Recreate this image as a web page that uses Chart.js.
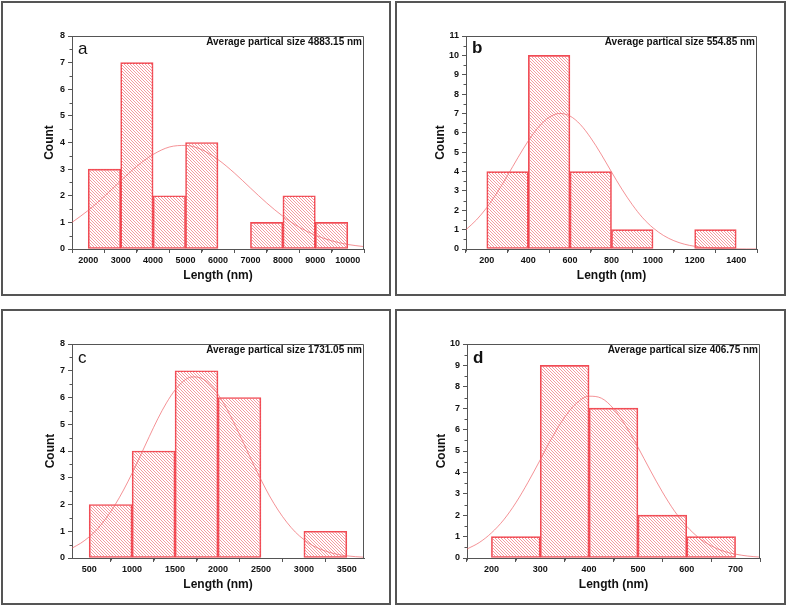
<!DOCTYPE html>
<html>
<head>
<meta charset="utf-8">
<script src="https://cdn.jsdelivr.net/npm/chart.js@4.4.1/dist/chart.umd.min.js"></script>
<style>
  body { margin: 0; background: #fff; }
  .box { position: absolute; border: 2px solid #555; box-sizing: border-box; background: #fff; }
  .box canvas { display: block; }
</style>
</head>
<body>
<div class="box" style="left:1px;top:1px;width:390px;height:295px"><canvas id="chartA" width="386" height="291"></canvas></div>
<div class="box" style="left:395px;top:1px;width:391px;height:295px"><canvas id="chartB" width="387" height="291"></canvas></div>
<div class="box" style="left:1px;top:309px;width:390px;height:296px"><canvas id="chartC" width="386" height="292"></canvas></div>
<div class="box" style="left:395px;top:309px;width:391px;height:296px"><canvas id="chartD" width="387" height="292"></canvas></div>
<script>
// Panel a
const binsA = [2500, 3500, 4500, 5500, 6500, 7500, 8500, 9500]; // bin centres (nm)
const countsA = [3, 7, 2, 4, 0, 1, 2, 1];
const fitXA = [1500, 2000, 2500, 3000, 3500, 4000, 4500, 5000, 5500, 6000, 6500, 7000, 7500, 8000, 8500, 9000, 9500, 10000, 10500];
const fitYA = [1.0, 1.45, 1.98, 2.56, 3.11, 3.55, 3.83, 3.89, 3.73, 3.36, 2.86, 2.29, 1.73, 1.23, 0.82, 0.52, 0.31, 0.17, 0.09];
const xTicksA = [2000, 3000, 4000, 5000, 6000, 7000, 8000, 9000, 10000];
const yTicksA = [0, 1, 2, 3, 4, 5, 6, 7, 8];

// Panel b
const binsB = [300, 500, 700, 900, 1100, 1300];
const countsB = [4, 10, 4, 1, 0, 1];
const fitXB = [100, 150, 200, 250, 300, 350, 400, 450, 500, 550, 600, 650, 700, 750, 800, 850, 900, 950, 1000, 1050, 1100, 1150, 1200, 1250, 1300, 1350, 1400, 1450, 1500];
const fitYB = [1.0, 1.5, 2.14, 2.92, 3.8, 4.72, 5.59, 6.31, 6.8, 7.0, 6.87, 6.43, 5.74, 4.9, 3.98, 3.09, 2.29, 1.61, 1.09, 0.7, 0.43, 0.25, 0.14, 0.075, 0.038, 0.018, 0.008, 0.003, 0.001];
const xTicksB = [200, 400, 600, 800, 1000, 1200, 1400];
const yTicksB = [0, 1, 2, 3, 4, 5, 6, 7, 8, 9, 10, 11];

// Panel c
const binsC = [750, 1250, 1750, 2250, 2750, 3250];
const countsC = [2, 4, 7, 6, 0, 1];
const fitXC = [300, 400, 500, 600, 700, 800, 900, 1000, 1100, 1200, 1300, 1400, 1500, 1600, 1700, 1800, 1900, 2000, 2100, 2200, 2300, 2400, 2500, 2600, 2700, 2800, 2900, 3000, 3100, 3200, 3300, 3400, 3500, 3600, 3700];
const fitYC = [0.37, 0.55, 0.79, 1.1, 1.5, 1.98, 2.54, 3.17, 3.85, 4.54, 5.21, 5.8, 6.28, 6.62, 6.77, 6.73, 6.51, 6.12, 5.59, 4.96, 4.28, 3.59, 2.93, 2.32, 1.79, 1.34, 0.97, 0.69, 0.47, 0.32, 0.21, 0.13, 0.08, 0.05, 0.03];
const xTicksC = [500, 1000, 1500, 2000, 2500, 3000, 3500];
const yTicksC = [0, 1, 2, 3, 4, 5, 6, 7, 8];

// Panel d
const binsD = [250, 350, 450, 550, 650];
const countsD = [1, 9, 7, 2, 1];
const fitXD = [150, 175, 200, 225, 250, 275, 300, 325, 350, 375, 400, 425, 450, 475, 500, 525, 550, 575, 600, 625, 650, 675, 700, 725, 750];
const fitYD = [0.42, 0.72, 1.17, 1.78, 2.58, 3.54, 4.59, 5.66, 6.58, 7.25, 7.56, 7.47, 6.98, 6.18, 5.18, 4.11, 3.09, 2.19, 1.48, 0.94, 0.57, 0.32, 0.18, 0.09, 0.044];
const xTicksD = [200, 300, 400, 500, 600, 700];
const yTicksD = [0, 1, 2, 3, 4, 5, 6, 7, 8, 9, 10];

const AXIS = "#555";
const FONT = "'Liberation Sans', Arial, sans-serif";

// diagonal "\" hatching like the original fill
function hatch(ctx) {
  const c = document.createElement("canvas");
  c.width = 3;
  c.height = 3;
  const g = c.getContext("2d");
  g.strokeStyle = "rgba(242,120,128,0.75)";
  g.lineWidth = 1;
  g.beginPath();
  g.moveTo(-1, -1); g.lineTo(4, 4);
  g.moveTo(-1, 2); g.lineTo(1, 4);
  g.moveTo(2, -1); g.lineTo(4, 1);
  g.stroke();
  return ctx.createPattern(c, "repeat");
}

// frame round the plot, minor ticks, panel letter and note
const decor = {
  id: "decor",
  afterDraw(chart, args, o) {
    const { ctx, chartArea: a, scales } = chart;
    ctx.save();
    ctx.strokeStyle = AXIS;
    ctx.lineWidth = 1;
    ctx.beginPath();
    ctx.moveTo(a.left, a.top + 0.5); ctx.lineTo(a.right - 0.5, a.top + 0.5);
    ctx.lineTo(a.right - 0.5, a.bottom);
    // minor ticks
    const xs = scales.x, ys = scales.y;
    const xt = xs.ticks.map(t => t.value);
    const xstep = xt[1] - xt[0];
    for (let v = xt[0] - xstep / 2; v <= xs.max; v += xstep) {
      if (v < xs.min) continue;
      const p = Math.round(xs.getPixelForValue(v)) + 0.5;
      ctx.moveTo(p, a.bottom); ctx.lineTo(p, a.bottom + 2.5);
    }
    const yt = ys.ticks.map(t => t.value);
    for (let i = 0; i < yt.length - 1; i++) {
      const p = Math.round(ys.getPixelForValue((yt[i] + yt[i + 1]) / 2)) + 0.5;
      ctx.moveTo(a.left, p); ctx.lineTo(a.left - 2.5, p);
    }
    ctx.stroke();
    ctx.fillStyle = "#111";
    ctx.textBaseline = "middle";
    ctx.textAlign = "right";
    ctx.font = "bold 10px " + FONT;
    ctx.fillText(o.note, a.right - 2, a.top + 6.5);
    ctx.textAlign = "left";
    ctx.font = (o.bold ? "bold " : "") + "17px " + FONT;
    ctx.fillText(o.letter, a.left + 6, a.top + o.letterY);
    ctx.restore();
  }
};

function makePanel(id, p) {
  const ctx = document.getElementById(id).getContext("2d");
  const tickFont = { family: FONT, size: 9, weight: "bold" };
  const titleFont = { family: FONT, size: 12, weight: "bold" };
  new Chart(ctx, {
    type: "bar",
    data: {
      datasets: [
        {
          type: "line",
          data: p.fitX.map((x, i) => ({ x: x, y: p.fitY[i] })),
          borderColor: "rgba(240,100,105,0.7)",
          borderWidth: 1,
          pointRadius: 0,
          cubicInterpolationMode: "monotone",
          order: 0
        },
        {
          data: p.bins.map((x, i) => ({ x: x, y: p.counts[i] })),
          backgroundColor: hatch(ctx),
          borderColor: "rgba(240,55,65,0.9)",
          borderWidth: 1,
          borderSkipped: false,
          barPercentage: 1,
          categoryPercentage: 1,
          order: 1
        }
      ]
    },
    options: {
      responsive: false,
      animation: false,
      layout: { padding: { left: p.padL, top: 33, right: p.padR, bottom: 8 } },
      plugins: {
        legend: { display: false },
        tooltip: { enabled: false },
        decor: { note: p.note, letter: p.letter, bold: p.bold, letterY: p.letterY }
      },
      scales: {
        x: {
          type: "linear",
          offset: false,
          min: p.xMin,
          max: p.xMax,
          afterBuildTicks: s => { s.ticks = p.xTicks.map(v => ({ value: v })); },
          afterFit: s => { s.height = p.xH; },
          grid: { drawOnChartArea: false, tickLength: 4, color: AXIS },
          border: { color: AXIS, width: 1 },
          ticks: { color: "#111", font: tickFont, padding: 2, maxRotation: 0, callback: v => String(v) },
          title: { display: true, text: "Length (nm)", color: "#111", font: titleFont, padding: { top: 0, bottom: 3 } }
        },
        y: {
          min: 0,
          max: p.yTicks[p.yTicks.length - 1],
          afterBuildTicks: s => { s.ticks = p.yTicks.map(v => ({ value: v })); },
          afterFit: s => { s.width = p.yW; },
          grid: { drawOnChartArea: false, tickLength: 4, color: AXIS },
          border: { color: AXIS, width: 1 },
          ticks: { color: "#111", font: tickFont, padding: 3, callback: v => String(v) },
          title: { display: true, text: "Count", color: "#111", font: titleFont, padding: { top: 3, bottom: 0 } }
        }
      }
    },
    plugins: [decor]
  });
}

makePanel("chartA", {
  bins: binsA, counts: countsA, fitX: fitXA, fitY: fitYA, xTicks: xTicksA, yTicks: yTicksA,
  xMin: 1500, xMax: 10500, padL: 36, yW: 33, padR: 25, xH: 37,
  note: "Average partical size 4883.15 nm", letter: "a", bold: false, letterY: 13
});
makePanel("chartB", {
  bins: binsB, counts: countsB, fitX: fitXB, fitY: fitYB, xTicks: xTicksB, yTicks: yTicksB,
  xMin: 100, xMax: 1500, padL: 33, yW: 36, padR: 27, xH: 37,
  note: "Average partical size 554.85 nm", letter: "b", bold: true, letterY: 12
});
makePanel("chartC", {
  bins: binsC, counts: countsC, fitX: fitXC, fitY: fitYC, xTicks: xTicksC, yTicks: yTicksC,
  xMin: 300, xMax: 3700, padL: 37, yW: 32, padR: 25, xH: 37,
  note: "Average partical size 1731.05 nm", letter: "c", bold: false, letterY: 14
});
makePanel("chartD", {
  bins: binsD, counts: countsD, fitX: fitXD, fitY: fitYD, xTicks: xTicksD, yTicks: yTicksD,
  xMin: 150, xMax: 750, padL: 34, yW: 36, padR: 24, xH: 37,
  note: "Average partical size 406.75 nm", letter: "d", bold: true, letterY: 14
});
</script>
</body>
</html>
